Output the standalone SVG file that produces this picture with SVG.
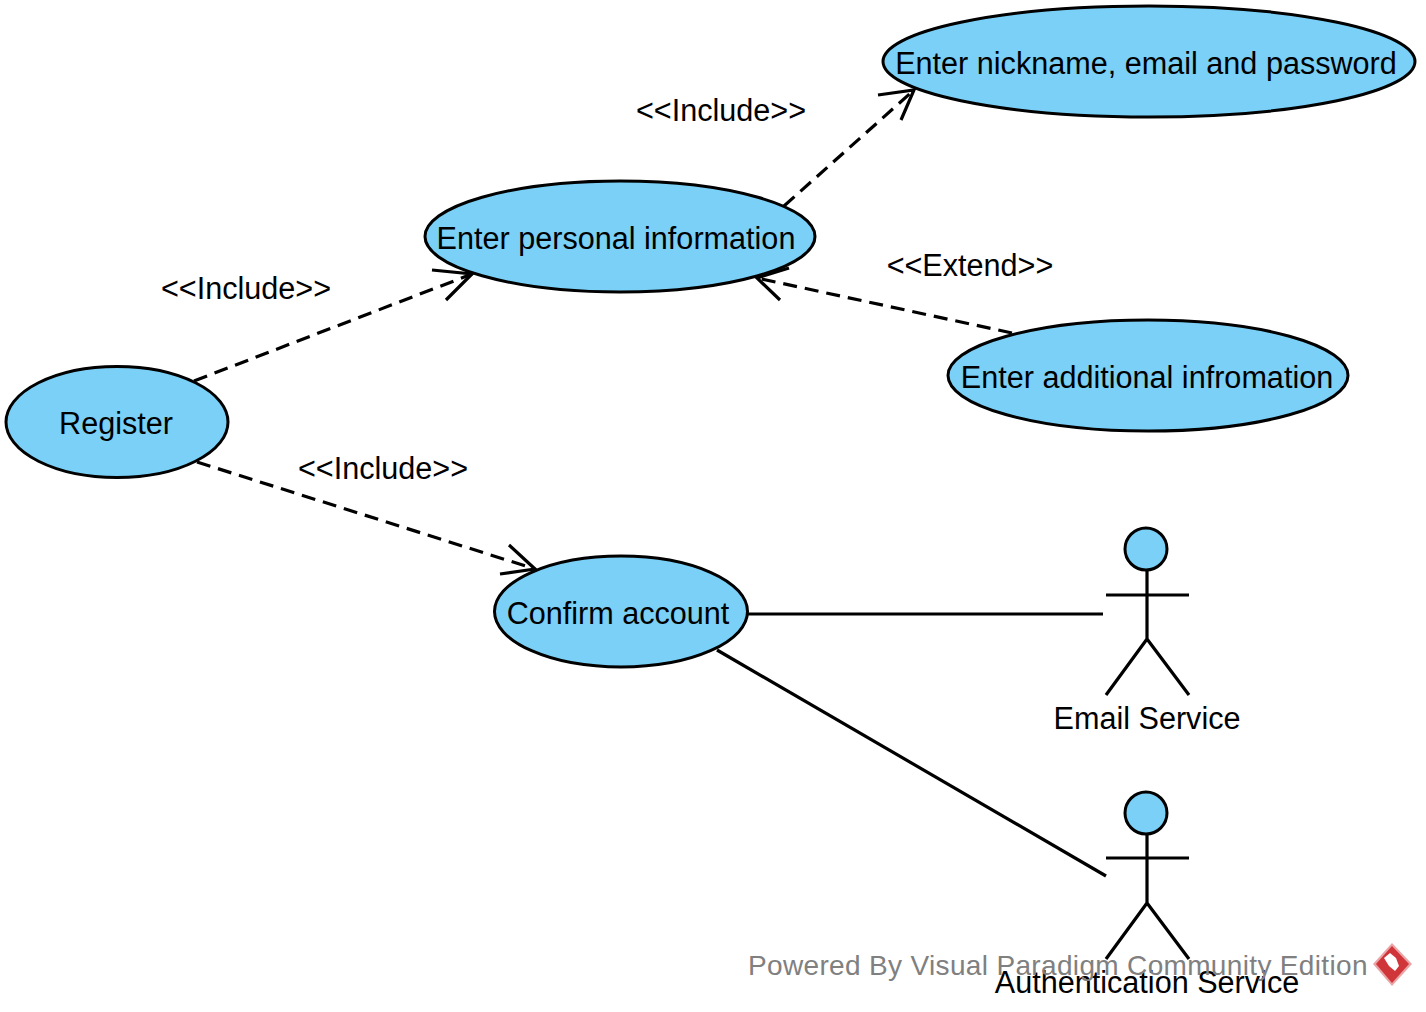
<svg xmlns="http://www.w3.org/2000/svg" width="1426" height="1012" viewBox="0 0 1426 1012">
<style>
text{font-family:"Liberation Sans",Arial,sans-serif;font-size:30.6px;fill:#000}
.n{fill:#7ad0f6;stroke:#000;stroke-width:3}
.l{fill:none;stroke:#000;stroke-width:3.2}
.d{stroke-dasharray:14 8}
.m{text-anchor:middle}
</style>
<rect width="1426" height="1012" fill="#fff"/>
<g id="connectors">
<path class="l d" d="M194 381L472 274"/><path class="l" d="M432 270L472 274L446 300"/>
<path class="l d" d="M197 462L535 569"/><path class="l" d="M509 545L535 569L500 574"/>
<path class="l d" d="M784 206L914 90"/><path class="l" d="M878 95L914 90L901 120"/>
<path class="l d" d="M1012 333L757 278"/><path class="l" d="M789 268L757 278L780 300"/>
<path class="l" d="M748 614H1103"/><path class="l" d="M717 650L1106 876"/>
</g>
<g id="register"><ellipse class="n" cx="117" cy="422" rx="111" ry="55.500"/><text class="m" x="116" y="434">Register</text></g>
<g id="personal"><ellipse class="n" cx="620" cy="236.500" rx="195" ry="55.500"/><text class="m" x="616" y="249">Enter personal information</text></g>
<g id="nickname"><ellipse class="n" cx="1149" cy="61.500" rx="266" ry="55.500"/><text class="m" x="1146" y="74">Enter nickname, email and password</text></g>
<g id="additional"><ellipse class="n" cx="1148" cy="375.500" rx="200" ry="55.500"/><text class="m" x="1147" y="388">Enter additional infromation</text></g>
<g id="confirm"><ellipse class="n" cx="621" cy="611.500" rx="126.500" ry="55.500"/><text class="m" x="618" y="624">Confirm account</text></g>
<g id="email-service"><circle class="n" cx="1146" cy="549" r="21"/><path class="l" d="M1147 570V639M1106 595H1189M1106 695L1147 639L1189 695"/><text class="m" x="1147" y="729">Email Service</text></g>
<g id="auth-service"><circle class="n" cx="1146" cy="813" r="21"/><path class="l" d="M1147 834V903M1106 858H1189M1106 959L1147 903L1189 959"/><text class="m" x="1147" y="993">Authentication Service</text></g>
<g id="labels">
<text class="m" x="721" y="121">&lt;&lt;Include&gt;&gt;</text>
<text class="m" x="246" y="299">&lt;&lt;Include&gt;&gt;</text>
<text class="m" x="383" y="479">&lt;&lt;Include&gt;&gt;</text>
<text class="m" x="970" y="276">&lt;&lt;Extend&gt;&gt;</text>
</g>
<g id="watermark"><text x="748" y="975" style="font-size:28px;fill:#808080;letter-spacing:.34px">Powered By Visual Paradigm Community Edition</text>
<path d="M1392 943L1412 964L1392 986L1373 964Z" fill="#d0353a" opacity=".45"/><path d="M1392 946L1409 964L1392 983L1376 964Z" fill="#d0353a"/><path d="M1384 958L1390 953L1396 958L1399 966L1395 971L1389 966Z" fill="#fff"/></g>
</svg>
